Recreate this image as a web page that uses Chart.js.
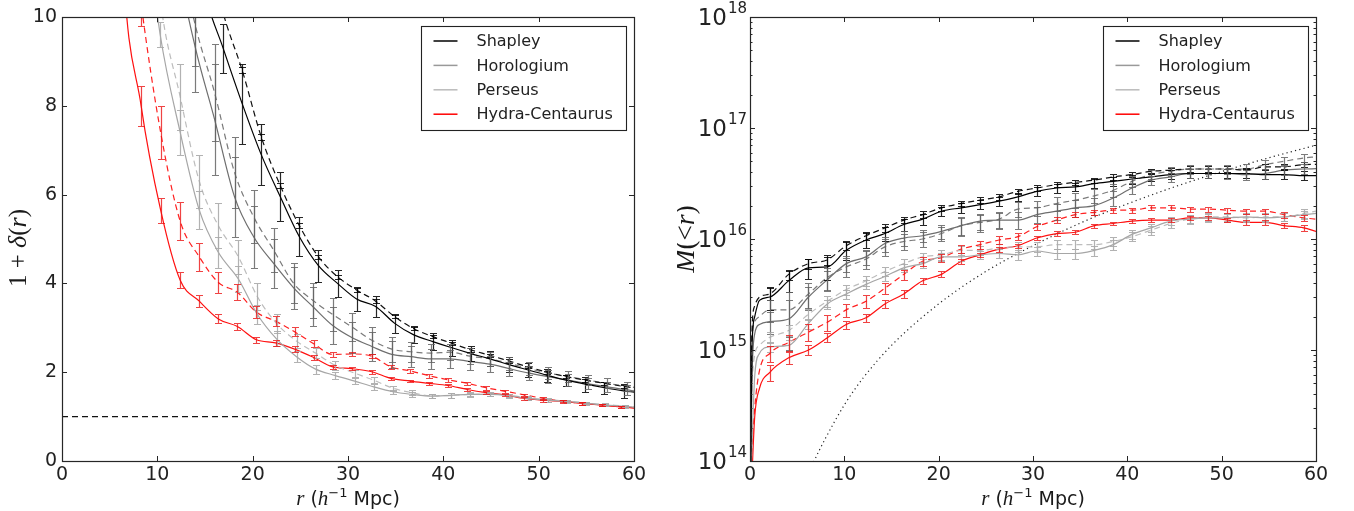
<!DOCTYPE html>
<html><head><meta charset="utf-8">
<script src="https://cdn.jsdelivr.net/npm/chart.js@4.4.1/dist/chart.umd.min.js"></script>
<style>
html,body{margin:0;padding:0;background:#fff;}
#wrap{position:relative;width:1354px;height:511px;overflow:hidden;}
canvas{position:absolute;top:0;}
</style></head><body>
<div id="wrap">
<canvas id="cl" width="677" height="511" style="left:0"></canvas>
<canvas id="cr" width="677" height="511" style="left:677px"></canvas>
</div>
<script>
// ---------------- data ----------------
const clusters = ['Shapley', 'Horologium', 'Perseus', 'Hydra-Centaurus'];

// Left panel: 1 + delta(r), r in h^-1 Mpc
const rShapleyL = [12.9,14.9,16.9,18.9,20.9,22.9,24.9,26.9,28.9,30.9,32.9,34.9,36.9,38.9,40.9,42.9,44.9,46.9,48.9,50.9,52.9,54.9,56.9,58.9,60];
const shapleySolidL = [13,10.6,9.3,8.05,6.9,5.95,5.05,4.4,4.0,3.65,3.48,3.1,2.84,2.69,2.55,2.42,2.3,2.17,2.05,1.93,1.82,1.73,1.65,1.58,1.55];
const shapleySolidErrL = [null,null,0.55,0.9,0.68,0.55,0.44,0.36,0.31,0.28,0.24,0.22,0.19,0.19,0.18,0.17,0.17,0.17,0.15,0.15,0.12,0.17,0.14,0.15,null];
const shapleyDashL = [14,12,10.1,8.8,7.3,6.2,5.3,4.6,4.15,3.85,3.6,3.25,2.98,2.8,2.65,2.5,2.38,2.25,2.12,2.0,1.9,1.82,1.75,1.68,1.65];
const shapleyDashErrL = [null,null,0.08,0.07,0.07,0.06,0.06,0.05,0.05,0.05,0.04,0.04,0.04,0.04,0.04,0.04,0.04,0.04,0.03,0.03,0.03,0.03,0.03,0.03,null];

const rHorologiumL = [9.8,11.9,14.0,16.0,18.1,20.1,22.2,24.3,26.3,28.4,30.4,32.5,34.6,36.6,38.7,40.7,42.8,44.9,46.9,49.0,51.0,53.1,55.2,57.2,59.3,60];
const horologiumSolidL = [15,11.5,9.3,7.7,5.95,5.05,4.45,3.9,3.48,3.05,2.78,2.58,2.4,2.35,2.3,2.3,2.24,2.18,2.08,1.98,1.9,1.82,1.74,1.67,1.6,1.58];
const horologiumSolidErrL = [null,null,1.0,1.25,0.9,0.7,0.55,0.48,0.45,0.42,0.35,0.32,0.3,0.24,0.22,0.2,0.2,0.18,0.16,0.15,0.14,0.13,0.12,0.12,0.11,null];
const horologiumDashL = [16,12,9.8,8.3,6.5,5.5,4.75,4.0,3.62,3.3,3.02,2.72,2.52,2.46,2.43,2.45,2.36,2.3,2.2,2.08,1.98,1.9,1.82,1.75,1.68,1.66];
const horologiumDashErrL = [null,null,0.9,1.1,0.8,0.6,0.5,0.45,0.4,0.38,0.32,0.3,0.28,0.22,0.2,0.18,0.18,0.16,0.15,0.14,0.13,0.12,0.11,0.11,0.1,null];

const rPerseusL = [8.3,10.3,12.4,14.4,16.4,18.5,20.5,22.5,24.6,26.6,28.6,30.7,32.7,34.7,36.7,38.8,40.8,42.8,44.9,46.9,48.9,51.0,53.0,55.0,57.0,59.1,60];
const perseusSolidL = [13,9.6,7.4,5.65,4.7,4.1,3.3,2.75,2.35,2.07,1.93,1.8,1.67,1.56,1.5,1.46,1.48,1.5,1.5,1.47,1.41,1.37,1.34,1.3,1.26,1.23,1.21];
const perseusSolidErrL = [null,0.28,0.5,0.42,0.35,0.3,0.22,0.17,0.13,0.1,0.08,0.07,0.06,0.05,0.05,0.05,0.05,0.04,0.04,0.04,0.04,0.03,0.03,0.03,0.03,0.03,null];
const perseusDashL = [15,10.4,8.2,6.3,5.3,4.6,3.7,3.1,2.7,2.43,2.16,1.98,1.82,1.64,1.54,1.47,1.48,1.5,1.51,1.48,1.42,1.38,1.35,1.31,1.27,1.24,1.22];
const perseusDashErrL = [null,0.3,0.75,0.6,0.5,0.38,0.3,0.22,0.16,0.12,0.1,0.08,0.07,0.06,0.06,0.05,0.05,0.05,0.04,0.04,0.04,0.04,0.03,0.03,0.03,0.03,null];

const rHydraL = [4.3,6.3,8.3,10.35,12.4,14.4,16.4,18.4,20.4,22.4,24.4,26.4,28.4,30.4,32.5,34.5,36.5,38.5,40.5,42.5,44.5,46.5,48.5,50.5,52.5,54.5,56.6,58.6,60];
const hydraSolidL = [25,11.6,8.0,5.65,4.07,3.6,3.2,3.03,2.73,2.66,2.52,2.33,2.12,2.08,2.01,1.86,1.8,1.75,1.7,1.61,1.54,1.49,1.41,1.37,1.34,1.3,1.26,1.22,1.19];
const hydraSolidErrL = [null,null,0.45,0.28,0.18,0.13,0.1,0.08,0.07,0.06,0.06,0.05,0.04,0.04,0.04,0.03,0.03,0.03,0.03,0.03,0.03,0.03,0.03,0.03,0.03,0.03,0.03,0.03,null];
const hydraDashL = [30,14,10.3,7.4,5.4,4.6,4.02,3.8,3.35,3.15,2.91,2.64,2.4,2.41,2.36,2.12,2.03,1.92,1.83,1.75,1.65,1.57,1.49,1.41,1.35,1.3,1.26,1.22,1.2];
const hydraDashErrL = [null,null,0.5,0.6,0.43,0.31,0.23,0.18,0.14,0.12,0.1,0.08,0.06,0.05,0.05,0.04,0.04,0.04,0.04,0.04,0.04,0.03,0.03,0.03,0.03,0.03,0.03,0.03,null];

const meanDensityR = [0, 60];
const meanDensityLevel = [1, 1];

// Right panel: M(<r), in units of MASS_UNIT (h^-1 Msun)
const MASS_UNIT = 1e15;
const rR = [0.05,0.2,0.5,1.0,2.1,4.1,6.2,8.2,10.2,12.3,14.3,16.3,18.3,20.3,22.4,24.4,26.4,28.4,30.4,32.5,34.5,36.5,38.5,40.5,42.5,44.6,46.6,48.6,50.6,52.6,54.6,56.6,58.7,60];

const shapleySolidR = [0.05,1.0,2.0,2.8, 3.0,4.2,5.5,5.6,7.9,9.8,11.2,13.5,15.1,17.8, 19.1,20.4,21.9,24.0,26.9,28.8,29.5,31.6,33.1,34.7, 36.3,38.0,38.9,38.9,38.9,38.9,38.0,38.0,37.2, 37.2];
const shapleySolidErrR = [null,null,null,null, 0.7,0.9,1.1,1.3,1.4,1.5,1.7,1.6,1.6,1.8, 1.8,1.9,2.0,2.2,2.4,2.6,2.7,2.9,3.0,3.2, 3.3,3.5,3.6,3.6,3.6,3.6,3.5,3.5,3.4, null];
const shapleyDashR = [0.08,1.4,2.5,3.0, 3.2,4.8,6.0,6.5,8.7,10.7,12.6,14.8,16.6,19.1, 20.9,22.4,24.0,26.9,28.8,30.9,32.4,33.9,36.3,38.0, 40.7,41.7,42.7,42.7,42.7,41.7,44.7,44.7,46.8, 47];
const shapleyDashErrR = [null,null,null,null, 0.4,0.5,0.6,0.7,0.8,0.9,1.0,1.0,1.1,1.2, 1.2,1.3,1.4,1.5,1.6,1.7,1.8,1.9,2.0,2.1, 2.2,2.3,2.3,2.3,2.3,2.3,2.4,2.4,2.5, null];

const horologiumSolidR = [0.05,0.5,1.4,1.7, 1.8,1.9,3.0,4.3,6.0,6.9,9.1,10.2,10.7,11.7, 13.2,14.5,14.8,14.8,16.6,17.8,19.1,20.0,23.4,28.8, 33.9,36.3,38.9,38.9,38.9,38.0,38.9,41.7,42.7, 43];
const horologiumSolidErrR = [null,null,null,null, 0.4,0.9,0.7,0.9,1.0,1.1,1.4,1.5,1.4,1.6, 2.4,2.4,2.4,2.6,2.8,3.0,3.2,3.4,3.6,3.4, 3.4,3.4,3.6,3.8,3.9,4.0,4.1,4.3,4.4, null];
const horologiumDashR = [0.1,1.1,1.8,2.0, 2.3,2.3,3.2,4.5,5.6,6.6,8.5,9.5,10.0,11.2, 13.2,14.1,15.1,18.6,19.1,20.9,22.4,24.5,27.5,33.1, 38.0,40.7,42.7,42.7,42.7,42.7,46.8,50.1,53.7, 55];
const horologiumDashErrR = [null,null,null,null, 0.5,1.0,0.8,1.0,1.1,1.2,1.5,1.6,1.5,1.7, 2.6,2.5,2.5,2.8,3.0,3.2,3.4,3.6,3.8,3.6, 3.6,3.6,3.8,4.0,4.1,4.3,4.4,4.6,4.8, null];

const perseusSolidR = [0.05,0.13,0.58,0.93, 1.07,1.1,1.74,2.6,3.2,3.9,4.6,5.5,6.0,6.9, 6.9,7.2,7.4,7.2,7.8,7.4,7.4,7.9,8.9,11.0, 12.6,14.5,15.1,15.5,15.5,15.8,15.5,15.8,16.6, 17];
const perseusSolidErrR = [null,null,null,null, 0.12,0.13,0.18,0.25,0.3,0.35,0.4,0.5,0.55,0.6, 0.6,0.65,0.7,0.7,0.75,0.75,0.75,0.8,0.9,1.0, 1.1,1.2,1.3,1.3,1.3,1.3,1.3,1.3,1.4, null];
const perseusDashR = [0.08,0.4,0.9,1.1, 1.3,1.5,2.1,2.75,3.5,4.2,5.1,6.0,6.9,7.2, 7.9,7.9,8.3,8.5,8.5,8.9,8.9,8.9,9.5,10.5, 12.0,13.8,15.1,15.8,15.8,15.5,15.8,15.8,17.0, 17.8];
const perseusDashErrR = [null,null,null,null, 0.15,0.17,0.22,0.3,0.35,0.42,0.5,0.6,0.65,0.7, 0.75,0.75,0.8,0.8,0.8,0.85,0.85,0.85,0.9,1.0, 1.1,1.25,1.35,1.4,1.4,1.4,1.4,1.4,1.5, null];

const hydraSolidR = [0.03,0.07,0.25,0.45, 0.63,0.85,1.0,1.29,1.7,1.95,2.6,3.2,4.2,4.8, 6.3,7.2,8.1,8.7,10.2,11.2,11.5,13.2,13.8,14.5, 14.8,14.8,15.5,15.5,14.8,14.1,14.1,13.2,12.6, 11.7];
const hydraSolidErrR = [null,null,null,null, 0.1,0.1,0.1,0.12,0.14,0.15,0.2,0.25,0.25,0.3, 0.35,0.35,0.4,0.4,0.45,0.5,0.5,0.55,0.55,0.6, 0.6,0.6,0.6,0.6,0.6,0.6,0.6,0.6,0.7, null];
const hydraDashR = [0.05,0.12,0.3,0.65, 0.93,1.17,1.45,1.78,2.3,2.75,3.6,4.8,6.3,6.8, 8.1,8.9,9.8,10.5,12.9,14.8,16.6,17.4,18.2,18.2, 19.1,19.1,18.6,18.6,18.2,17.8,17.8,16.6,15.5, 15.1];
const hydraDashErrR = [null,null,null,null, 0.15,0.2,0.25,0.3,0.3,0.35,0.4,0.5,0.55,0.6, 0.65,0.7,0.75,0.8,0.85,0.9,0.95,1.0,1.0,1.0, 1.0,1.0,1.0,1.0,1.0,1.0,1.0,1.0,1.1, null];

// dotted curve: mass at mean density
const rMean = [6.0,6.8,8,10,12,15,20,25,30,35,40,45,50,55,60];
const mMean = [0.07,0.1,0.16,0.32,0.56,1.1,2.6,5.1,8.7,13.9,20.7,29.5,40.5,53.9,70];

// axes / ticks
const xTickValues = [0,10,20,30,40,50,60];
const deltaTickValues = [0,2,4,6,8,10];
const massDecades = [14,15,16,17,18];

// ---------------- styles ----------------
const SANS = '"DejaVu Sans", sans-serif';
const SERIF = '"Liberation Serif", "DejaVu Serif", serif';
const solidColors = ['#000000','#6e6e6e','#a6a6a6','#ff1010'];
const dashColors  = ['#111111','#7a7a7a','#bdbdbd','#ff2020'];
const barColors   = ['rgba(0,0,0,0.85)','rgba(100,100,100,0.85)','rgba(170,170,170,0.9)','rgba(235,20,20,0.8)'];
const legendColors = ['#000000','#999999','#bbbbbb','#ff0000'];

// ---------------- helpers ----------------
function series(r, v, err, color, dashed, errColor, unit) {
  const u = unit || 1;
  return {
    data: r.map((x, i) => ({x: x, y: v[i] * u})),
    errs: err ? err.map(e => e == null ? null : e * u) : null,
    errColor: errColor,
    borderColor: color,
    borderWidth: 1.2,
    borderDash: dashed ? [6, 4] : [],
    pointRadius: 0,
    fill: false,
    cubicInterpolationMode: 'monotone'
  };
}

const errorBarPlugin = {
  id: 'errbars',
  afterDatasetsDraw(chart) {
    const ctx = chart.ctx, a = chart.chartArea, xs = chart.scales.x, ys = chart.scales.y;
    ctx.save();
    ctx.beginPath(); ctx.rect(a.left, a.top, a.right - a.left, a.bottom - a.top); ctx.clip();
    ctx.setLineDash([]);
    ctx.lineWidth = 1.2;
    chart.data.datasets.forEach(ds => {
      if (!ds.errs) return;
      ctx.strokeStyle = ds.errColor;
      ds.data.forEach((p, i) => {
        const e = ds.errs[i];
        if (e == null) return;
        const px = Math.round(xs.getPixelForValue(p.x)) + 0.5;
        let lo = p.y - e, hi = p.y + e;
        if (ys.type === 'logarithmic' && lo <= 0) lo = ys.min;
        const y1 = Math.round(ys.getPixelForValue(lo)) + 0.5, y2 = Math.round(ys.getPixelForValue(hi)) + 0.5;
        ctx.beginPath();
        ctx.moveTo(px, y1); ctx.lineTo(px, y2);
        ctx.moveTo(px - 3.5, y1); ctx.lineTo(px + 3.5, y1);
        ctx.moveTo(px - 3.5, y2); ctx.lineTo(px + 3.5, y2);
        ctx.stroke();
      });
    });
    ctx.restore();
  }
};

function drawRich(ctx, parts, cx, cy) {
  let w = 0;
  parts.forEach(p => { ctx.font = p.f; p.w = ctx.measureText(p.t).width; w += p.w; });
  let x = cx - w / 2;
  ctx.textAlign = 'left'; ctx.textBaseline = 'alphabetic';
  parts.forEach(p => { ctx.font = p.f; ctx.fillText(p.t, x, cy + (p.dy || 0)); x += p.w; });
}

const decorPlugin = {
  id: 'decor',
  afterDraw(chart, args, o) {
    const ctx = chart.ctx, a = chart.chartArea, xs = chart.scales.x, ys = chart.scales.y;
    ctx.save();
    ctx.setLineDash([]);
    ctx.strokeStyle = '#262626';
    ctx.lineWidth = 1.2;
    // frame
    ctx.strokeRect(Math.round(a.left) + 0.5, Math.round(a.top) + 0.5, Math.round(a.right - a.left), Math.round(a.bottom - a.top));
    // ticks (inside, all four sides)
    ctx.lineWidth = 1;
    ctx.beginPath();
    o.xMajor.forEach(v => {
      const px = Math.round(xs.getPixelForValue(v)) + 0.5;
      ctx.moveTo(px, a.bottom); ctx.lineTo(px, a.bottom - 5);
      ctx.moveTo(px, a.top); ctx.lineTo(px, a.top + 5);
    });
    o.yMajor.forEach(v => {
      const py = Math.round(ys.getPixelForValue(v)) + 0.5;
      ctx.moveTo(a.left, py); ctx.lineTo(a.left + 5, py);
      ctx.moveTo(a.right, py); ctx.lineTo(a.right - 5, py);
    });
    (o.yMinor || []).forEach(v => {
      const py = Math.round(ys.getPixelForValue(v)) + 0.5;
      ctx.moveTo(a.left, py); ctx.lineTo(a.left + 2.5, py);
      ctx.moveTo(a.right, py); ctx.lineTo(a.right - 2.5, py);
    });
    ctx.stroke();

    // log tick labels
    ctx.fillStyle = '#222';
    if (o.logLabels) {
      o.logLabels.forEach(d => {
        const py = ys.getPixelForValue(Math.pow(10, d));
        const xr = a.left - 3;
        ctx.font = '15px ' + SANS;
        ctx.textAlign = 'right'; ctx.textBaseline = 'middle';
        const ew = ctx.measureText(String(d)).width;
        ctx.fillText(String(d), xr, py - 8);
        ctx.font = '23px ' + SANS;
        ctx.fillText('10', xr - ew - 1, py + 2);
      });
    }

    // axis titles
    ctx.fillStyle = '#1a1a1a';
    drawRich(ctx, o.xTitle, (a.left + a.right) / 2, a.bottom + 44);
    ctx.save();
    ctx.translate(a.left - o.yTitleOffset, (a.top + a.bottom) / 2 + (o.yTitleShift || 0));
    ctx.rotate(-Math.PI / 2);
    drawRich(ctx, o.yTitle, 0, 8);
    ctx.restore();

    // legend
    const bw = 205, bh = 104;
    const bx = Math.round(a.right - 8 - bw) + 0.5, by = Math.round(a.top + 9) + 0.5;
    ctx.fillStyle = '#ffffff';
    ctx.fillRect(bx, by, bw, bh);
    ctx.strokeStyle = '#222';
    ctx.lineWidth = 1.1;
    ctx.strokeRect(bx, by, bw, bh);
    o.legend.forEach((name, i) => {
      const ry = by + 14.5 + i * 24.4;
      ctx.strokeStyle = legendColors[i];
      ctx.lineWidth = 1.5;
      ctx.beginPath(); ctx.moveTo(bx + 12, ry); ctx.lineTo(bx + 36, ry); ctx.stroke();
      ctx.fillStyle = '#222';
      ctx.font = '16px ' + SANS;
      ctx.textAlign = 'left'; ctx.textBaseline = 'middle';
      ctx.fillText(name, bx + 55, ry + 1);
    });
    ctx.restore();
  }
};

const xTitleParts = [
  {t: 'r', f: 'italic 21px ' + SERIF},
  {t: ' (', f: '19px ' + SANS},
  {t: 'h', f: 'italic 21px ' + SERIF},
  {t: '\u22121', f: '13px ' + SANS, dy: -8},
  {t: ' Mpc)', f: '19px ' + SANS}
];

function baseOptions(padRight, yWidth) {
  return {
    responsive: false,
    animation: false,
    layout: {padding: {top: 17, right: padRight, left: 0, bottom: 0}},
    plugins: {legend: {display: false}, tooltip: {enabled: false}},
    scales: {
      x: {
        type: 'linear', min: 0, max: 60,
        afterBuildTicks: s => { s.ticks = xTickValues.map(v => ({value: v})); },
        ticks: {font: {family: SANS, size: 19}, color: '#222', padding: 3, maxRotation: 0},
        grid: {display: false, drawTicks: false},
        border: {display: false},
        afterFit: s => { s.height = 50; }
      },
      y: {
        afterFit: s => { s.width = yWidth; },
        grid: {display: false, drawTicks: false},
        border: {display: false}
      }
    }
  };
}

// ---------------- left chart ----------------
const leftSets = [
  [rShapleyL, shapleySolidL, shapleySolidErrL, shapleyDashL, shapleyDashErrL],
  [rHorologiumL, horologiumSolidL, horologiumSolidErrL, horologiumDashL, horologiumDashErrL],
  [rPerseusL, perseusSolidL, perseusSolidErrL, perseusDashL, perseusDashErrL],
  [rHydraL, hydraSolidL, hydraSolidErrL, hydraDashL, hydraDashErrL]
];
const leftDatasets = [];
leftSets.forEach((s, i) => {
  leftDatasets.push(series(s[0], s[1], s[2], solidColors[i], false, barColors[i]));
  leftDatasets.push(series(s[0], s[3], s[4], dashColors[i], true, barColors[i]));
});
leftDatasets.push({
  data: meanDensityR.map((x, i) => ({x: x, y: meanDensityLevel[i]})),
  borderColor: '#111', borderWidth: 1.1, borderDash: [6, 4], pointRadius: 0, fill: false
});

const lo = baseOptions(43, 62);
lo.scales.y = Object.assign(lo.scales.y, {
  type: 'linear', min: 0, max: 10,
  afterBuildTicks: s => { s.ticks = deltaTickValues.map(v => ({value: v})); },
  ticks: {font: {family: SANS, size: 19}, color: '#222', padding: 5}
});
lo.plugins.decor = {
  xMajor: xTickValues, yMajor: deltaTickValues,
  xTitle: xTitleParts,
  yTitle: [
    {t: '1 + ', f: '25px ' + SERIF},
    {t: '\u03b4', f: 'italic 26px ' + SERIF},
    {t: '(', f: '25px ' + SERIF},
    {t: 'r', f: 'italic 26px ' + SERIF},
    {t: ')', f: '25px ' + SERIF}
  ],
  yTitleOffset: 44,
  yTitleShift: 9,
  legend: clusters
};

new Chart(document.getElementById('cl'), {
  type: 'line',
  data: {datasets: leftDatasets},
  options: lo,
  plugins: [errorBarPlugin, decorPlugin]
});

// ---------------- right chart ----------------
const rightSets = [
  [shapleySolidR, shapleySolidErrR, shapleyDashR, shapleyDashErrR],
  [horologiumSolidR, horologiumSolidErrR, horologiumDashR, horologiumDashErrR],
  [perseusSolidR, perseusSolidErrR, perseusDashR, perseusDashErrR],
  [hydraSolidR, hydraSolidErrR, hydraDashR, hydraDashErrR]
];
const rightDatasets = [];
rightSets.forEach((s, i) => {
  rightDatasets.push(series(rR, s[0], s[1], solidColors[i], false, barColors[i], MASS_UNIT));
  rightDatasets.push(series(rR, s[2], s[3], dashColors[i], true, barColors[i], MASS_UNIT));
});
rightDatasets.push({
  data: rMean.map((x, i) => ({x: x, y: mMean[i] * MASS_UNIT})),
  borderColor: '#222', borderWidth: 1.2, borderDash: [1.2, 3.2], pointRadius: 0, fill: false,
  cubicInterpolationMode: 'monotone'
});

const minorTicks = [];
massDecades.slice(0, -1).forEach(d => { for (let m = 2; m <= 9; m++) minorTicks.push(m * Math.pow(10, d)); });

const ro = baseOptions(38, 73);
ro.scales.y = Object.assign(ro.scales.y, {
  type: 'logarithmic', min: 1e14, max: 1e18,
  ticks: {display: false}
});
ro.plugins.decor = {
  xMajor: xTickValues,
  yMajor: massDecades.map(d => Math.pow(10, d)),
  yMinor: minorTicks,
  logLabels: massDecades,
  xTitle: xTitleParts,
  yTitle: [
    {t: 'M', f: 'italic 28px ' + SERIF},
    {t: '(<', f: '27px ' + SERIF},
    {t: 'r', f: 'italic 28px ' + SERIF},
    {t: ')', f: '27px ' + SERIF}
  ],
  yTitleOffset: 64,
  yTitleShift: 0,
  legend: clusters
};

new Chart(document.getElementById('cr'), {
  type: 'line',
  data: {datasets: rightDatasets},
  options: ro,
  plugins: [errorBarPlugin, decorPlugin]
});
</script>
</body></html>
